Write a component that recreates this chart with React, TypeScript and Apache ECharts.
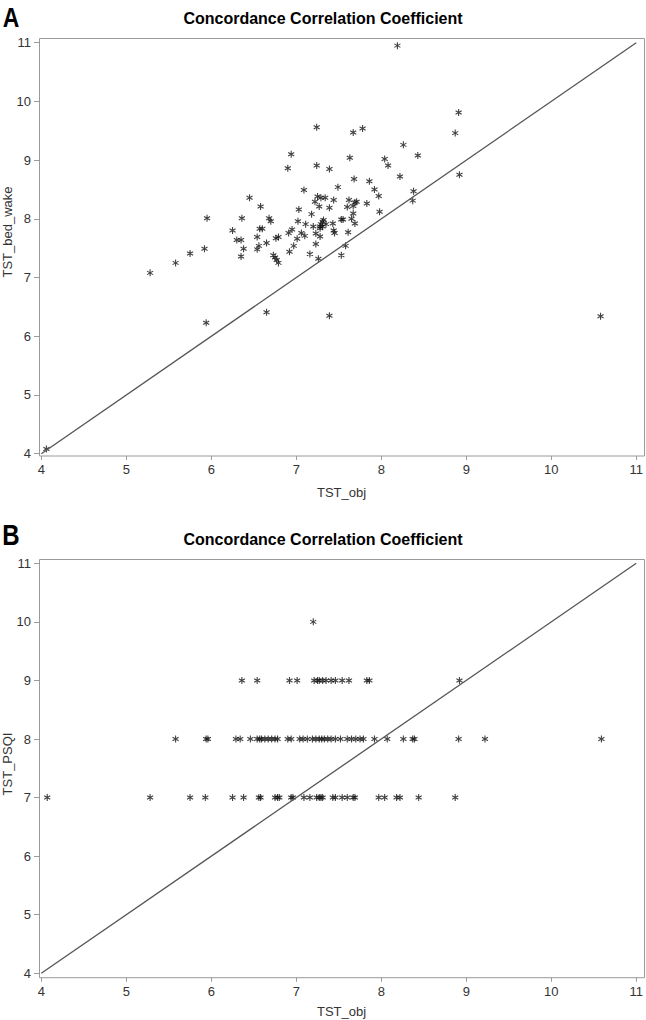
import React, { useEffect, useRef } from "react";
import * as echarts from "echarts";

// ---------- Data ----------
const TITLE = "Concordance Correlation Coefficient";
const X_NAME = "TST_obj";
const Y_NAME_A = "TST_bed_wake";
const Y_NAME_B = "TST_PSQI";
const AXIS_MIN = 4;
const AXIS_MAX = 11;
const AXIS_STEP = 1;

// Panel A: TST_obj vs TST_bed_wake
const panelA_obj = [
  4.06, 5.28, 5.58, 5.75, 5.92, 5.95, 5.94, 6.25, 6.30, 6.35, 6.36, 6.35, 6.38, 6.45, 6.54, 6.54, 6.56, 6.57,
  6.60, 6.58, 6.65, 6.65, 6.68, 6.70, 6.73, 6.75, 6.77, 6.79, 6.76, 6.79, 6.90, 6.94, 6.91, 6.95, 6.92, 6.97,
  7.01, 7.02, 7.03, 7.06, 7.10, 7.09, 7.11, 7.16, 7.18, 7.20, 7.22, 7.23, 7.23, 7.24, 7.24, 7.25, 7.26, 7.27,
  7.28, 7.28, 7.28, 7.29, 7.29, 7.31, 7.31, 7.32, 7.34, 7.35, 7.39, 7.39, 7.39, 7.43, 7.44, 7.44, 7.45, 7.49,
  7.53, 7.55, 7.53, 7.58, 7.60, 7.61, 7.62, 7.63, 7.65, 7.67, 7.67, 7.67, 7.68, 7.69, 7.69, 7.71, 7.78, 7.83,
  7.86, 7.92, 7.97, 7.98, 8.04, 8.08, 8.19, 8.22, 8.26, 8.37, 8.38, 8.43, 8.87, 8.91, 8.92, 10.58,
];
const panelA_bedWake = [
  4.08, 7.08, 7.25, 7.41, 7.49, 8.01, 6.23, 7.80, 7.64, 7.64, 8.01, 7.36, 7.49, 8.36, 7.69, 7.48, 7.54, 7.83,
  7.83, 8.21, 7.59, 6.41, 8.01, 7.96, 7.38, 7.34, 7.30, 7.25, 7.67, 7.69, 8.86, 9.10, 7.76, 7.82, 7.44, 7.54,
  7.66, 7.96, 8.16, 7.76, 7.71, 8.49, 7.91, 7.40, 8.08, 7.87, 8.29, 7.75, 7.57, 9.56, 8.91, 8.38, 7.32, 8.21,
  7.70, 7.87, 7.84, 8.36, 7.91, 7.95, 7.87, 7.98, 8.36, 7.91, 8.85, 8.19, 6.35, 7.92, 8.32, 7.80, 7.76, 8.54,
  7.99, 7.99, 7.38, 7.54, 8.20, 7.77, 8.32, 9.04, 8.00, 9.47, 8.22, 8.09, 8.68, 8.28, 7.92, 8.29, 9.54, 8.26,
  8.64, 8.50, 8.39, 8.12, 9.02, 8.91, 10.95, 8.72, 9.26, 8.31, 8.47, 9.08, 9.46, 9.81, 8.75, 6.34,
];

// Panel B: TST_obj values grouped by TST_PSQI level
const psqiLevels = [7, 8, 9, 10];
const psqi7_obj = [
  4.07, 5.28, 5.75, 5.93, 6.25, 6.38, 6.56, 6.58, 6.75, 6.78, 6.80, 6.94, 6.96, 7.09, 7.16, 7.24, 7.27, 7.29,
  7.31, 7.43, 7.46, 7.54, 7.60, 7.67, 7.69, 7.97, 8.04, 8.18, 8.22, 8.44, 8.87,
];
const psqi8_obj = [
  5.58, 5.94, 5.96, 6.29, 6.34, 6.46, 6.54, 6.57, 6.59, 6.63, 6.67, 6.71, 6.75, 6.78, 6.90, 6.94, 7.04, 7.08,
  7.13, 7.19, 7.23, 7.27, 7.30, 7.33, 7.37, 7.41, 7.46, 7.52, 7.60, 7.65, 7.70, 7.75, 7.79, 7.92, 8.07, 8.26,
  8.37, 8.39, 8.91, 9.22, 10.59,
];
const psqi9_obj = [6.36, 6.54, 6.92, 7.01, 7.21, 7.25, 7.27, 7.31, 7.35, 7.41, 7.46, 7.54, 7.62, 7.83, 7.86, 8.92];
const psqi10_obj = [7.2];

// ---------- Styling ----------
const ASTERISK = "path://M5,0L5,10M0.67,2.5L9.33,7.5M0.67,7.5L9.33,2.5";
const FONT = "'Liberation Sans Narrow', 'Liberation Sans', Arial, sans-serif";
const LABEL_COLOR = "#333";
const FRAME_COLOR = "#9a9a9a";

export default function App() {
  const ref = useRef<HTMLDivElement>(null);

  useEffect(() => {
    if (!ref.current) return;
    const chart = echarts.init(ref.current, undefined, { renderer: "svg" });

    const dataA = panelA_obj.map((x, i) => [x, panelA_bedWake[i]]);
    const groupsB = [psqi7_obj, psqi8_obj, psqi9_obj, psqi10_obj];
    const dataB: number[][] = [];
    groupsB.forEach((g, gi) => g.forEach((x) => dataB.push([x, psqiLevels[gi]])));
    const diag = [
      [AXIS_MIN, AXIS_MIN],
      [AXIS_MAX, AXIS_MAX],
    ];

    const grids = [
      { left: 41.3, top: 42.7, width: 600.2, height: 411 },
      { left: 41.3, top: 563.3, width: 600.2, height: 410 },
    ];
    const xOffsets = [2.3, 4.4];

    const axisCommon = {
      type: "value",
      min: AXIS_MIN,
      max: AXIS_MAX,
      interval: AXIS_STEP,
      axisLine: { show: false },
      splitLine: { show: false },
    };

    const scatterStyle = {
      type: "scatter",
      symbol: ASTERISK,
      symbolSize: 7,
      symbolKeepAspect: true,
      itemStyle: { color: "#111", borderColor: "#111", borderWidth: 1.1 },
      silent: true,
    };
    const lineStyle = {
      type: "line",
      symbol: "none",
      lineStyle: { color: "#555", width: 1.3 },
      silent: true,
    };

    const frame = (x1: number, y1: number, x2: number, y2: number) => ({
      type: "rect",
      shape: { x: x1, y: y1, width: x2 - x1, height: y2 - y1 },
      style: { fill: "none", stroke: FRAME_COLOR, lineWidth: 1 },
      silent: true,
    });
    const txt = (
      text: string,
      x: number,
      y: number,
      font: string,
      opts: any = {}
    ) => ({
      type: "text",
      x,
      y,
      ...opts,
      style: {
        text,
        font,
        fill: opts.fill || LABEL_COLOR,
        textAlign: "center",
        textVerticalAlign: "middle",
      },
      silent: true,
    });

    chart.setOption({
      animation: false,
      backgroundColor: "#fff",
      grid: grids,
      xAxis: [0, 1].map((i) => ({
        ...axisCommon,
        gridIndex: i,
        offset: xOffsets[i],
        axisTick: { show: true, length: 4, lineStyle: { color: FRAME_COLOR } },
        axisLabel: { color: LABEL_COLOR, fontSize: 13, fontFamily: FONT, margin: 7 },
      })),
      yAxis: [0, 1].map((i) => ({
        ...axisCommon,
        gridIndex: i,
        offset: 2.3,
        axisTick: { show: true, length: 5, lineStyle: { color: FRAME_COLOR } },
        axisLabel: { color: LABEL_COLOR, fontSize: 13, fontFamily: FONT, margin: 8 },
      })),
      series: [
        { ...lineStyle, xAxisIndex: 0, yAxisIndex: 0, data: diag },
        { ...scatterStyle, xAxisIndex: 0, yAxisIndex: 0, data: dataA },
        { ...lineStyle, xAxisIndex: 1, yAxisIndex: 1, data: diag },
        { ...scatterStyle, xAxisIndex: 1, yAxisIndex: 1, data: dataB },
      ],
      graphic: [
        frame(39.5, 38.5, 644.5, 456),
        frame(39.5, 559.5, 644.5, 977.7),
        txt("A", 11, 17, "bold 27px 'Liberation Sans', Arial, sans-serif", { scaleX: 0.85, fill: "#000" }),
        txt("B", 11, 535, "bold 30px 'Liberation Sans', Arial, sans-serif", { scaleX: 0.8, fill: "#000" }),
        txt(TITLE, 323, 18, "bold 16px 'Liberation Sans', Arial, sans-serif", { fill: "#000" }),
        txt(TITLE, 323, 539, "bold 16px 'Liberation Sans', Arial, sans-serif", { fill: "#000" }),
        txt(X_NAME, 341.5, 492, `13px ${FONT}`),
        txt(X_NAME, 341.5, 1011, `13px ${FONT}`),
        txt(Y_NAME_A, 7, 232, `13px ${FONT}`, { rotation: Math.PI / 2 }),
        txt(Y_NAME_B, 7, 764, `13px ${FONT}`, { rotation: Math.PI / 2 }),
      ],
    });

    return () => chart.dispose();
  }, []);

  return (
    <div
      ref={ref}
      style={{ position: "absolute", left: 0, top: 0, width: 646, height: 1020, background: "#fff" }}
    />
  );
}
